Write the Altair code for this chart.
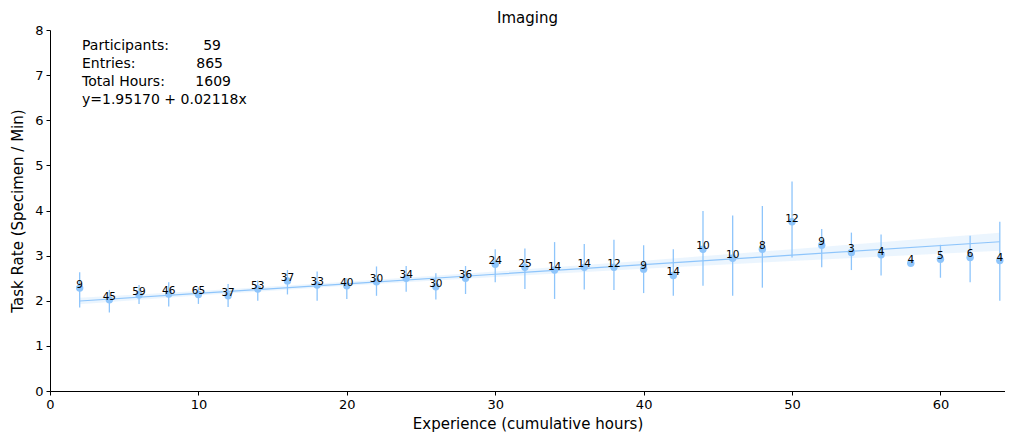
import altair as alt
import pandas as pd

# ---- data ----
hours = [2, 4, 6, 8, 10, 12, 14, 16, 18, 20, 22, 24, 26, 28, 30, 32, 34, 36, 38, 40,
         42, 44, 46, 48, 50, 52, 54, 56, 58, 60, 62, 64]
rate = [2.28, 2.02, 2.13, 2.15, 2.14, 2.11, 2.26, 2.44, 2.35, 2.33, 2.42, 2.50, 2.31, 2.50,
        2.81, 2.74, 2.68, 2.74, 2.74, 2.70, 2.56, 3.14, 2.94, 3.14, 3.75, 3.23, 3.07, 3.02,
        2.83, 2.92, 2.96, 2.89]
err_hi = [2.63, 2.24, 2.35, 2.41, 2.30, 2.37, 2.45, 2.68, 2.65, 2.50, 2.76, 2.77, 2.61, 2.77,
          3.14, 3.16, 3.30, 3.26, 3.35, 3.23, 3.14, 3.99, 3.89, 4.10, 4.64, 3.59, 3.51, 3.47,
          2.83, 3.24, 3.44, 3.75]
err_lo = [1.85, 1.74, 1.93, 1.87, 1.93, 1.86, 2.00, 2.14, 2.00, 2.04, 2.11, 2.20, 2.03, 2.15,
          2.41, 2.26, 2.04, 2.25, 2.24, 2.17, 2.11, 2.33, 2.11, 2.29, 2.96, 2.74, 2.68, 2.56,
          2.83, 2.51, 2.41, 2.00]
counts = [9, 45, 59, 46, 65, 37, 53, 37, 33, 40, 30, 34, 30, 36, 24, 25, 14, 14, 12, 9,
          14, 10, 10, 8, 12, 9, 3, 4, 4, 5, 6, 4]

# regression line and confidence band
fit_x = [2, 10, 20, 30, 40, 50, 64]
fit_y = [1.994, 2.164, 2.375, 2.587, 2.799, 3.011, 3.307]
band_lo = [1.924, 2.114, 2.330, 2.527, 2.709, 2.881, 3.107]
band_hi = [2.064, 2.214, 2.420, 2.647, 2.889, 3.141, 3.507]

title_text = "Imaging"
stats_labels = ["Participants:", "Entries:", "Total Hours:", "y=1.95170 + 0.02118x"]
stats_values = ["59", "865", "1609", ""]

color = "#8ec5fb"
font = "DejaVu Sans"
W, H = 955, 361

df = pd.DataFrame({"x": hours, "y": rate, "hi": err_hi, "lo": err_lo,
                   "n": [str(c) for c in counts]})
fit = pd.DataFrame({"x": fit_x, "y": fit_y, "lo": band_lo, "hi": band_hi})

xs = alt.Scale(domain=[0, 64.35], nice=False, zero=False)
ys = alt.Scale(domain=[0, 8], nice=False)

xax = alt.Axis(values=[0, 10, 20, 30, 40, 50, 60], title="Experience (cumulative hours)",
               grid=False, tickSize=4, labelFontSize=13, titleFontSize=15,
               labelFont=font, titleFont=font, titleFontWeight="normal",
               domainColor="black", tickColor="black", labelColor="black",
               titleColor="black", labelPadding=3, titlePadding=5, labelFlush=False)
yax = alt.Axis(values=list(range(9)), title="Task Rate (Specimen / Min)",
               grid=False, tickSize=4, labelFontSize=13, titleFontSize=15,
               labelFont=font, titleFont=font, titleFontWeight="normal",
               domainColor="black", tickColor="black", labelColor="black",
               titleColor="black", labelPadding=3, titlePadding=9)

band = alt.Chart(fit).mark_area(color=color, opacity=0.18).encode(
    x=alt.X("x:Q", scale=xs, axis=xax), y=alt.Y("lo:Q", scale=ys, axis=yax), y2="hi:Q")
line = alt.Chart(fit).mark_line(color=color, strokeWidth=1.2).encode(
    x=alt.X("x:Q"), y=alt.Y("y:Q"))
bars = alt.Chart(df).mark_rule(color=color, strokeWidth=1.3).encode(
    x=alt.X("x:Q"), y=alt.Y("lo:Q"), y2="hi:Q")
pts = alt.Chart(df).mark_circle(color=color, opacity=1, size=55).encode(
    x=alt.X("x:Q"), y=alt.Y("y:Q"))
labels = alt.Chart(df).mark_text(fontSize=10.5, font=font, color="black", dy=-3,
                                 baseline="middle", align="center").encode(
    x=alt.X("x:Q"), y=alt.Y("y:Q"), text="n:N")

layers = [band, line, bars, pts, labels]
one = pd.DataFrame({"k": [0]})
layers.append(alt.Chart(one).mark_text(fontSize=15, font=font, color="black",
                                       align="center", baseline="alphabetic").encode(
    x=alt.value(W / 2), y=alt.value(-7), text=alt.value(title_text)))
label_y = [16, 34, 52, 70]
value_x = [171, 173, 181]
for i, lab in enumerate(stats_labels):
    layers.append(alt.Chart(one).mark_text(fontSize=14, font=font, color="black",
                                           align="left", baseline="middle").encode(
        x=alt.value(32), y=alt.value(label_y[i]), text=alt.value(lab)))
for i, val in enumerate(stats_values[:3]):
    layers.append(alt.Chart(one).mark_text(fontSize=14, font=font, color="black",
                                           align="right", baseline="middle").encode(
        x=alt.value(value_x[i]), y=alt.value(label_y[i]), text=alt.value(val)))

chart = alt.layer(*layers).properties(
    width=W, height=H,
    autosize=alt.AutoSizeParams(type="none"),
    padding={"left": 42, "top": 22, "right": 0, "bottom": 48},
).configure_view(stroke=None).configure_axis(domainWidth=1, tickWidth=1)

chart.save("out.html", embed_options={"renderer": "svg", "actions": False})
